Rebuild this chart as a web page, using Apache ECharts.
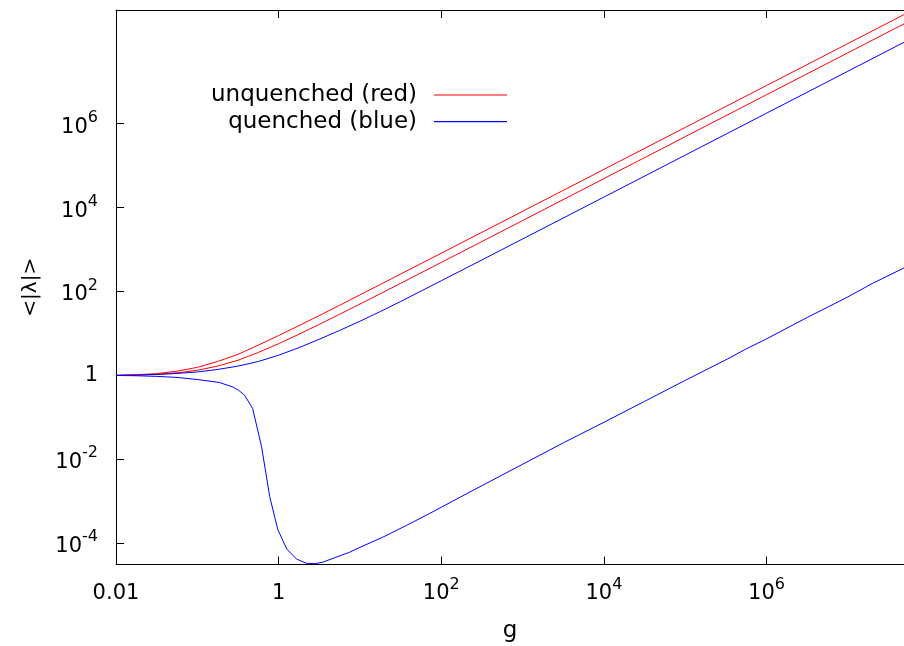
<!DOCTYPE html>
<html>
<head>
<meta charset="utf-8">
<script src="https://cdn.jsdelivr.net/npm/echarts@6/dist/echarts.min.js"></script>
<style>
html, body { margin: 0; padding: 0; background: #fff; }
#chart { width: 904px; height: 646px; }
</style>
</head>
<body>
<div id="chart"></div>
<script>
// all values are log10
var logG = [-2, -1.75, -1.5, -1.25, -1, -0.75, -0.5, -0.25, 0, 0.25, 0.5, 0.75, 1, 1.25, 1.5, 2, 2.5, 3, 4, 5, 6, 7, 7.7];
var logUnquenchedHigh = [0, 0.015, 0.04, 0.1, 0.19, 0.33, 0.5, 0.72, 0.95, 1.185, 1.425, 1.67, 1.92, 2.165, 2.415, 2.912, 3.411, 3.91, 4.91, 5.91, 6.91, 7.91, 8.61];
var logUnquenchedLow = [0, 0.008, 0.025, 0.06, 0.12, 0.22, 0.36, 0.545, 0.755, 0.98, 1.215, 1.455, 1.7, 1.945, 2.193, 2.692, 3.19, 3.69, 4.69, 5.69, 6.69, 7.69, 8.39];
var logQuenchedHigh = [0, 0.006, 0.02, 0.045, 0.08, 0.14, 0.22, 0.33, 0.48, 0.66, 0.86, 1.07, 1.29, 1.52, 1.76, 2.255, 2.752, 3.251, 4.25, 5.25, 6.25, 7.25, 7.95];

// the dipping quenched curve has its own g points
var logGDip = [-2, -1.75, -1.5, -1.25, -1, -0.73, -0.56, -0.49, -0.42, -0.32, -0.21, -0.11, -0.01, 0.1, 0.22, 0.34, 0.45, 0.55, 0.7, 0.87, 1, 1.28, 1.57, 1.86, 2.14, 2.5, 3, 3.5, 4, 4.5, 5, 5.5, 5.74, 6, 6.5, 7, 7.3, 7.7];
var logQuenchedDip = [-0.003, -0.01, -0.025, -0.05, -0.1, -0.17, -0.28, -0.36, -0.47, -0.79, -1.7, -2.89, -3.68, -4.14, -4.38, -4.48, -4.49, -4.45, -4.34, -4.22, -4.1, -3.86, -3.58, -3.29, -3.0, -2.63, -2.12, -1.61, -1.12, -0.62, -0.12, 0.37, 0.62, 0.87, 1.38, 1.87, 2.19, 2.57];

var xTicks = [-2, 0, 2, 4, 6];
var yTicks = [-4, -2, 0, 2, 4, 6];

var FONT = 'DejaVu Sans';
var RED = '#ff0000';
var BLUE = '#0000ff';

function pairs(xs, ys) {
    return xs.map(function (x, i) { return [x, ys[i]]; });
}

function xLabel(v) {
    if (v === -2) return '{b|0.01}';
    if (v === 0) return '{b|1}';
    return '{b|10}{sup|' + v + '}';
}
function yLabel(v) {
    if (v === 0) return '1';
    return '{b|10}{sup|' + v + '}';
}

var labelRich = {
    b: { fontFamily: FONT, fontSize: 21, color: '#000', lineHeight: 28, verticalAlign: 'bottom' },
    sup: { fontFamily: FONT, fontSize: 16, color: '#000', lineHeight: 28, verticalAlign: 'top' }
};

var chartDom = document.getElementById('chart');
var myChart = echarts.init(chartDom);

function curve(name, color, xs, ys) {
    return {
        name: name,
        type: 'line',
        data: pairs(xs, ys),
        showSymbol: false,
        symbol: 'none',
        color: color,
        lineStyle: { color: color, width: 1 },
        silent: true
    };
}

var option = {
    animation: false,
    grid: { left: 116, right: 0, top: 10, bottom: 81.5, outerBoundsMode: 'none' },
    legend: {
        data: ['unquenched (red)', 'quenched (blue)'],
        orient: 'vertical',
        align: 'right',
        right: 397,
        top: 83,
        padding: 0,
        icon: 'rect',
        itemWidth: 73,
        itemHeight: 1.2,
        itemGap: 2.7,
        selectedMode: false,
        textStyle: { fontFamily: FONT, fontSize: 23, color: '#000', lineHeight: 24, padding: [0, 12, 0, 0] }
    },
    xAxis: [
        {
            type: 'value',
            min: -2,
            max: 7.69,
            name: 'g',
            nameLocation: 'middle',
            nameGap: 55,
            nameTextStyle: { fontFamily: FONT, fontSize: 23, color: '#000' },
            axisLine: { onZero: false, lineStyle: { color: '#000', width: 1 } },
            axisTick: { inside: true, length: 8, customValues: xTicks, lineStyle: { color: '#000' } },
            axisLabel: { customValues: xTicks, margin: 12, formatter: xLabel, rich: labelRich },
            splitLine: { show: false }
        },
        {
            type: 'value',
            position: 'top',
            min: -2,
            max: 7.69,
            axisLine: { show: true, onZero: false, lineStyle: { color: '#000', width: 1 } },
            axisTick: { inside: true, length: 8, customValues: xTicks, lineStyle: { color: '#000' } },
            axisLabel: { show: false },
            splitLine: { show: false }
        }
    ],
    yAxis: {
        type: 'value',
        min: -4.51,
        max: 8.71,
        name: '<|λ|>',
        nameLocation: 'middle',
        nameGap: 75,
        nameTextStyle: { fontFamily: FONT, fontSize: 20, color: '#000' },
        axisLine: { show: true, onZero: false, lineStyle: { color: '#000', width: 1 } },
        axisTick: { show: true, inside: true, length: 8, customValues: yTicks, lineStyle: { color: '#000' } },
        axisLabel: {
            customValues: yTicks, margin: 18, formatter: yLabel, rich: labelRich,
            fontFamily: FONT, fontSize: 21, color: '#000'
        },
        splitLine: { show: false }
    },
    series: [
        curve('unquenched (red)', RED, logG, logUnquenchedHigh),
        curve('unquenched (red)', RED, logG, logUnquenchedLow),
        curve('quenched (blue)', BLUE, logG, logQuenchedHigh),
        curve('quenched (blue)', BLUE, logGDip, logQuenchedDip)
    ]
};

option && myChart.setOption(option);
</script>
</body>
</html>
